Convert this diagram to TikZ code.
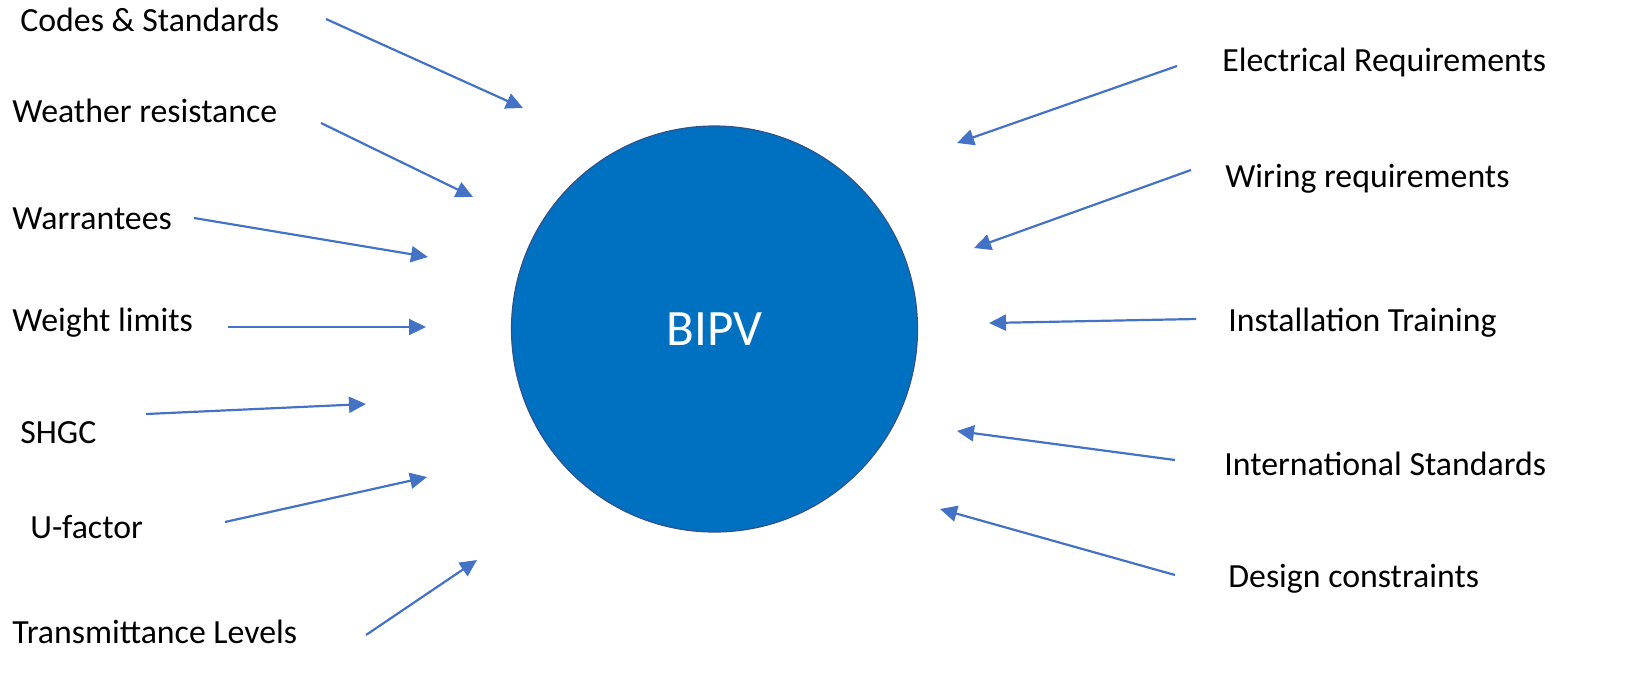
\documentclass[tikz,border=0pt]{standalone}
\usepackage{fontspec}
\setmainfont{Carlito}
\usepackage{tikz}
\usetikzlibrary{arrows.meta}
\definecolor{arrowblue}{HTML}{4472C4}
\definecolor{discblue}{HTML}{0070C0}
\definecolor{rimblue}{HTML}{2F528F}
\tikzstyle{req}=[anchor=west,inner sep=0pt,font=\fontsize{16.9}{20}\selectfont]
\tikzstyle{pointer}=[draw=arrowblue,line width=1.1pt,-{Triangle[length=8.5pt,width=8pt]}]
\tikzstyle{disc}=[circle,draw=rimblue,line width=0.6pt,fill=discblue,minimum size=203pt,inner sep=0pt]

\begin{document}
\begin{tikzpicture}[x=0.5pt,y=-0.5pt]
  \useasboundingbox (0,0) rectangle (1633,676);
  \node [disc] (bipv) at (714.5,329) {};
  \node [text=white,font=\fontsize{25.5}{30}\selectfont] (bipvtext) at (bipv.center) {BIPV};
  % left side
  \node [req] (codes) at (20,20) {Codes \& Standards};
  \node [req] (weather) at (12,111) {Weather resistance};
  \node [req] (warrant) at (12,219) {Warrantees};
  \node [req] (weight) at (12,323) {Weight limits};
  \node [req] (shgc) at (20,433) {SHGC};
  \node [req] (ufactor) at (30,527) {U-factor};
  \node [req] (transmit) at (12,632) {Transmittance Levels};
  % right side
  \node [req] (electric) at (1222,62) {Electrical Requirements};
  \node [req] (wiring) at (1225,179) {Wiring requirements};
  \node [req] (install) at (1228,323) {Installation Training};
  \node [req] (intl) at (1224,464) {International Standards};
  \node [req] (design) at (1228,579) {Design constraints};
  % arrow ends
  \coordinate (codes-s) at (326,19);     \coordinate (codes-e) at (523,108);
  \coordinate (weather-s) at (321,123);  \coordinate (weather-e) at (473,197);
  \coordinate (warrant-s) at (194,218);  \coordinate (warrant-e) at (428,257);
  \coordinate (weight-s) at (228,327);   \coordinate (weight-e) at (426,327);
  \coordinate (shgc-s) at (146,414);     \coordinate (shgc-e) at (366,404);
  \coordinate (ufactor-s) at (225,522);  \coordinate (ufactor-e) at (427,477);
  \coordinate (transmit-s) at (366,635); \coordinate (transmit-e) at (477,560);
  \coordinate (electric-s) at (1177,66); \coordinate (electric-e) at (957,143);
  \coordinate (wiring-s) at (1191,170);  \coordinate (wiring-e) at (974,248);
  \coordinate (install-s) at (1196,319); \coordinate (install-e) at (989,323);
  \coordinate (intl-s) at (1175,460);    \coordinate (intl-e) at (957,431);
  \coordinate (design-s) at (1175,575);  \coordinate (design-e) at (940,509);
  \foreach \n in {codes,weather,warrant,weight,shgc,ufactor,transmit,electric,wiring,install,intl,design}
    \draw [pointer] (\n-s) -- (\n-e);
\end{tikzpicture}
\end{document}
